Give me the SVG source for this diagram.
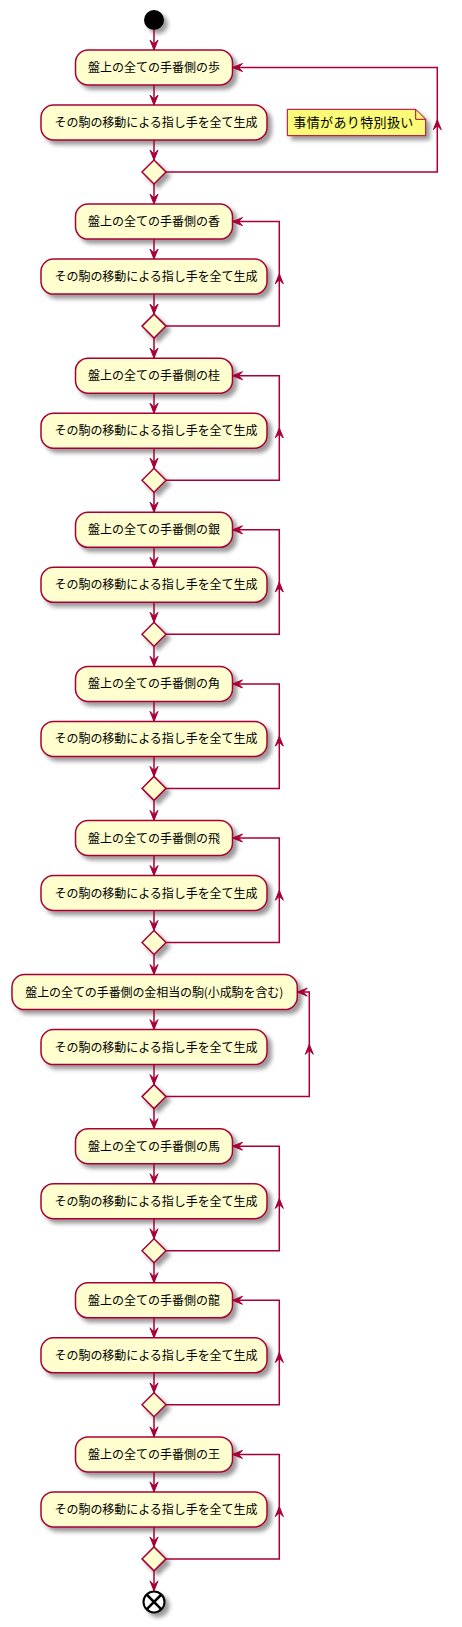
<svg xmlns="http://www.w3.org/2000/svg" xmlns:xlink="http://www.w3.org/1999/xlink" width="462" height="1627" viewBox="0 0 462 1627">
<defs>
<filter id="sh" x="-1" y="-1" width="300%" height="300%">
<feGaussianBlur in="SourceGraphic" result="b1" stdDeviation="2"/>
<feColorMatrix in="b1" result="b2" type="matrix" values="0 0 0 0 0 0 0 0 0 0 0 0 0 0 0 0 0 0 .4 0"/>
<feOffset in="b2" dx="4" dy="4" result="b3"/>
<feBlend in="SourceGraphic" in2="b3" mode="normal"/>
</filter>
<polygon id="ah" points="-4,-10 0,0 4,-10 0,-6"/>
</defs>
<style>
.act{fill:#FEFECE;stroke:#A80036;stroke-width:1.5;filter:url(#sh)}
.dia{fill:#FEFECE;stroke:#A80036;stroke-width:1.5;filter:url(#sh)}
.t{font-family:"Noto Sans CJK JP","Noto Sans CJK SC",sans-serif;font-size:12px;fill:#000;text-anchor:middle}
.nt{font-family:"Noto Sans CJK JP","Noto Sans CJK SC",sans-serif;font-size:13px;fill:#000}
.ln{fill:none;stroke:#A80036;stroke-width:1.5}
#connectors use{fill:#A80036;stroke:#A80036;stroke-width:1}
</style>
<rect width="462" height="1627" fill="#FFFFFF"/>

<g id="start"><circle cx="154" cy="20" r="10" fill="#000" filter="url(#sh)"/></g>

<!-- block 0 歩 -->
<g id="n0a" transform="translate(0,50)"><rect class="act" x="75.5" y="0" width="157" height="35" rx="12.5"/><text class="t" x="154" y="22" textLength="132" lengthAdjust="spacing">盤上の全ての手番側の歩</text></g>
<g id="n0b" transform="translate(0,50)"><rect class="act" x="41" y="55" width="226" height="35" rx="12.5"/><text class="t" x="156" y="77" textLength="203" lengthAdjust="spacing">その駒の移動による指し手を全て生成</text></g>
<g id="d0" transform="translate(0,50)"><polygon class="dia" points="154,110 166,122 154,134 142,122"/></g>
<g id="note0"><path d="M287.3,109.3 L287.3,135.7 L425.7,135.7 L425.7,119.3 L415.7,109.3 Z" fill="#FBFB77" stroke="#A80036" stroke-width="1" filter="url(#sh)"/><path d="M415.7,109.3 L415.7,119.3 L425.7,119.3" fill="none" stroke="#A80036" stroke-width="1"/><text class="nt" x="293.3" y="127.3" textLength="120" lengthAdjust="spacing">事情があり特別扱い</text></g>

<!-- block 1 香 -->
<g id="n1a" transform="translate(0,204.1)"><rect class="act" x="75.5" y="0" width="157" height="35" rx="12.5"/><text class="t" x="154" y="22" textLength="132" lengthAdjust="spacing">盤上の全ての手番側の香</text></g>
<g id="n1b" transform="translate(0,204.1)"><rect class="act" x="41" y="55" width="226" height="35" rx="12.5"/><text class="t" x="156" y="77" textLength="203" lengthAdjust="spacing">その駒の移動による指し手を全て生成</text></g>
<g id="d1" transform="translate(0,204.1)"><polygon class="dia" points="154,110 166,122 154,134 142,122"/></g>

<!-- block 2 桂 -->
<g id="n2a" transform="translate(0,358.2)"><rect class="act" x="75.5" y="0" width="157" height="35" rx="12.5"/><text class="t" x="154" y="22" textLength="132" lengthAdjust="spacing">盤上の全ての手番側の桂</text></g>
<g id="n2b" transform="translate(0,358.2)"><rect class="act" x="41" y="55" width="226" height="35" rx="12.5"/><text class="t" x="156" y="77" textLength="203" lengthAdjust="spacing">その駒の移動による指し手を全て生成</text></g>
<g id="d2" transform="translate(0,358.2)"><polygon class="dia" points="154,110 166,122 154,134 142,122"/></g>

<!-- block 3 銀 -->
<g id="n3a" transform="translate(0,512.3)"><rect class="act" x="75.5" y="0" width="157" height="35" rx="12.5"/><text class="t" x="154" y="22" textLength="132" lengthAdjust="spacing">盤上の全ての手番側の銀</text></g>
<g id="n3b" transform="translate(0,512.3)"><rect class="act" x="41" y="55" width="226" height="35" rx="12.5"/><text class="t" x="156" y="77" textLength="203" lengthAdjust="spacing">その駒の移動による指し手を全て生成</text></g>
<g id="d3" transform="translate(0,512.3)"><polygon class="dia" points="154,110 166,122 154,134 142,122"/></g>

<!-- block 4 角 -->
<g id="n4a" transform="translate(0,666.4)"><rect class="act" x="75.5" y="0" width="157" height="35" rx="12.5"/><text class="t" x="154" y="22" textLength="132" lengthAdjust="spacing">盤上の全ての手番側の角</text></g>
<g id="n4b" transform="translate(0,666.4)"><rect class="act" x="41" y="55" width="226" height="35" rx="12.5"/><text class="t" x="156" y="77" textLength="203" lengthAdjust="spacing">その駒の移動による指し手を全て生成</text></g>
<g id="d4" transform="translate(0,666.4)"><polygon class="dia" points="154,110 166,122 154,134 142,122"/></g>

<!-- block 5 飛 -->
<g id="n5a" transform="translate(0,820.5)"><rect class="act" x="75.5" y="0" width="157" height="35" rx="12.5"/><text class="t" x="154" y="22" textLength="132" lengthAdjust="spacing">盤上の全ての手番側の飛</text></g>
<g id="n5b" transform="translate(0,820.5)"><rect class="act" x="41" y="55" width="226" height="35" rx="12.5"/><text class="t" x="156" y="77" textLength="203" lengthAdjust="spacing">その駒の移動による指し手を全て生成</text></g>
<g id="d5" transform="translate(0,820.5)"><polygon class="dia" points="154,110 166,122 154,134 142,122"/></g>

<!-- block 6 金 -->
<g id="n6a" transform="translate(0,974.6)"><rect class="act" x="12" y="0" width="285.3" height="35" rx="12.5"/><text class="t" x="154.3" y="22" textLength="258" lengthAdjust="spacing">盤上の全ての手番側の金相当の駒(小成駒を含む)</text></g>
<g id="n6b" transform="translate(0,974.6)"><rect class="act" x="41" y="55" width="226" height="35" rx="12.5"/><text class="t" x="156" y="77" textLength="203" lengthAdjust="spacing">その駒の移動による指し手を全て生成</text></g>
<g id="d6" transform="translate(0,974.6)"><polygon class="dia" points="154,110 166,122 154,134 142,122"/></g>

<!-- block 7 馬 -->
<g id="n7a" transform="translate(0,1128.7)"><rect class="act" x="75.5" y="0" width="157" height="35" rx="12.5"/><text class="t" x="154" y="22" textLength="132" lengthAdjust="spacing">盤上の全ての手番側の馬</text></g>
<g id="n7b" transform="translate(0,1128.7)"><rect class="act" x="41" y="55" width="226" height="35" rx="12.5"/><text class="t" x="156" y="77" textLength="203" lengthAdjust="spacing">その駒の移動による指し手を全て生成</text></g>
<g id="d7" transform="translate(0,1128.7)"><polygon class="dia" points="154,110 166,122 154,134 142,122"/></g>

<!-- block 8 龍 -->
<g id="n8a" transform="translate(0,1282.8)"><rect class="act" x="75.5" y="0" width="157" height="35" rx="12.5"/><text class="t" x="154" y="22" textLength="132" lengthAdjust="spacing">盤上の全ての手番側の龍</text></g>
<g id="n8b" transform="translate(0,1282.8)"><rect class="act" x="41" y="55" width="226" height="35" rx="12.5"/><text class="t" x="156" y="77" textLength="203" lengthAdjust="spacing">その駒の移動による指し手を全て生成</text></g>
<g id="d8" transform="translate(0,1282.8)"><polygon class="dia" points="154,110 166,122 154,134 142,122"/></g>

<!-- block 9 王 -->
<g id="n9a" transform="translate(0,1436.9)"><rect class="act" x="75.5" y="0" width="157" height="35" rx="12.5"/><text class="t" x="154" y="22" textLength="132" lengthAdjust="spacing">盤上の全ての手番側の王</text></g>
<g id="n9b" transform="translate(0,1436.9)"><rect class="act" x="41" y="55" width="226" height="35" rx="12.5"/><text class="t" x="156" y="77" textLength="203" lengthAdjust="spacing">その駒の移動による指し手を全て生成</text></g>
<g id="d9" transform="translate(0,1436.9)"><polygon class="dia" points="154,110 166,122 154,134 142,122"/></g>

<g id="end" filter="url(#sh)"><circle cx="154" cy="1601.9" r="10.5" fill="#FFFFFF" stroke="#000" stroke-width="2"/><path d="M146.6,1594.5 L161.4,1609.3 M161.4,1594.5 L146.6,1609.3" stroke="#000" stroke-width="2.5"/></g>

<g id="connectors">
<path class="ln" d="M154,30 V50"/><use xlink:href="#ah" transform="translate(154,50)"/>
<g transform="translate(0,50)">
<path class="ln" d="M154,35 V55 M154,90 V110 M154,134 V154 M166,122 H437.3 V17.5 H232.5"/>
<use xlink:href="#ah" transform="translate(154,55)"/><use xlink:href="#ah" transform="translate(154,110)"/><use xlink:href="#ah" transform="translate(154,154)"/>
<use xlink:href="#ah" transform="translate(232.5,17.5) rotate(90)"/><use xlink:href="#ah" transform="translate(437.3,69.75) rotate(180)"/>
</g>
<g transform="translate(0,204.1)">
<path class="ln" d="M154,35 V55 M154,90 V110 M154,134 V154 M166,122 H279.3 V17.5 H232.5"/>
<use xlink:href="#ah" transform="translate(154,55)"/><use xlink:href="#ah" transform="translate(154,110)"/><use xlink:href="#ah" transform="translate(154,154)"/>
<use xlink:href="#ah" transform="translate(232.5,17.5) rotate(90)"/><use xlink:href="#ah" transform="translate(279.3,69.75) rotate(180)"/>
</g>
<g transform="translate(0,358.2)">
<path class="ln" d="M154,35 V55 M154,90 V110 M154,134 V154 M166,122 H279.3 V17.5 H232.5"/>
<use xlink:href="#ah" transform="translate(154,55)"/><use xlink:href="#ah" transform="translate(154,110)"/><use xlink:href="#ah" transform="translate(154,154)"/>
<use xlink:href="#ah" transform="translate(232.5,17.5) rotate(90)"/><use xlink:href="#ah" transform="translate(279.3,69.75) rotate(180)"/>
</g>
<g transform="translate(0,512.3)">
<path class="ln" d="M154,35 V55 M154,90 V110 M154,134 V154 M166,122 H279.3 V17.5 H232.5"/>
<use xlink:href="#ah" transform="translate(154,55)"/><use xlink:href="#ah" transform="translate(154,110)"/><use xlink:href="#ah" transform="translate(154,154)"/>
<use xlink:href="#ah" transform="translate(232.5,17.5) rotate(90)"/><use xlink:href="#ah" transform="translate(279.3,69.75) rotate(180)"/>
</g>
<g transform="translate(0,666.4)">
<path class="ln" d="M154,35 V55 M154,90 V110 M154,134 V154 M166,122 H279.3 V17.5 H232.5"/>
<use xlink:href="#ah" transform="translate(154,55)"/><use xlink:href="#ah" transform="translate(154,110)"/><use xlink:href="#ah" transform="translate(154,154)"/>
<use xlink:href="#ah" transform="translate(232.5,17.5) rotate(90)"/><use xlink:href="#ah" transform="translate(279.3,69.75) rotate(180)"/>
</g>
<g transform="translate(0,820.5)">
<path class="ln" d="M154,35 V55 M154,90 V110 M154,134 V154 M166,122 H279.3 V17.5 H232.5"/>
<use xlink:href="#ah" transform="translate(154,55)"/><use xlink:href="#ah" transform="translate(154,110)"/><use xlink:href="#ah" transform="translate(154,154)"/>
<use xlink:href="#ah" transform="translate(232.5,17.5) rotate(90)"/><use xlink:href="#ah" transform="translate(279.3,69.75) rotate(180)"/>
</g>
<g transform="translate(0,974.6)">
<path class="ln" d="M154,35 V55 M154,90 V110 M154,134 V154 M166,122 H309.3 V17.5 H297.3"/>
<use xlink:href="#ah" transform="translate(154,55)"/><use xlink:href="#ah" transform="translate(154,110)"/><use xlink:href="#ah" transform="translate(154,154)"/>
<use xlink:href="#ah" transform="translate(297.3,17.5) rotate(90)"/><use xlink:href="#ah" transform="translate(309.3,69.75) rotate(180)"/>
</g>
<g transform="translate(0,1128.7)">
<path class="ln" d="M154,35 V55 M154,90 V110 M154,134 V154 M166,122 H279.3 V17.5 H232.5"/>
<use xlink:href="#ah" transform="translate(154,55)"/><use xlink:href="#ah" transform="translate(154,110)"/><use xlink:href="#ah" transform="translate(154,154)"/>
<use xlink:href="#ah" transform="translate(232.5,17.5) rotate(90)"/><use xlink:href="#ah" transform="translate(279.3,69.75) rotate(180)"/>
</g>
<g transform="translate(0,1282.8)">
<path class="ln" d="M154,35 V55 M154,90 V110 M154,134 V154 M166,122 H279.3 V17.5 H232.5"/>
<use xlink:href="#ah" transform="translate(154,55)"/><use xlink:href="#ah" transform="translate(154,110)"/><use xlink:href="#ah" transform="translate(154,154)"/>
<use xlink:href="#ah" transform="translate(232.5,17.5) rotate(90)"/><use xlink:href="#ah" transform="translate(279.3,69.75) rotate(180)"/>
</g>
<g transform="translate(0,1436.9)">
<path class="ln" d="M154,35 V55 M154,90 V110 M154,134 V154 M166,122 H279.3 V17.5 H232.5"/>
<use xlink:href="#ah" transform="translate(154,55)"/><use xlink:href="#ah" transform="translate(154,110)"/><use xlink:href="#ah" transform="translate(154,154)"/>
<use xlink:href="#ah" transform="translate(232.5,17.5) rotate(90)"/><use xlink:href="#ah" transform="translate(279.3,69.75) rotate(180)"/>
</g>
</g>
</svg>
